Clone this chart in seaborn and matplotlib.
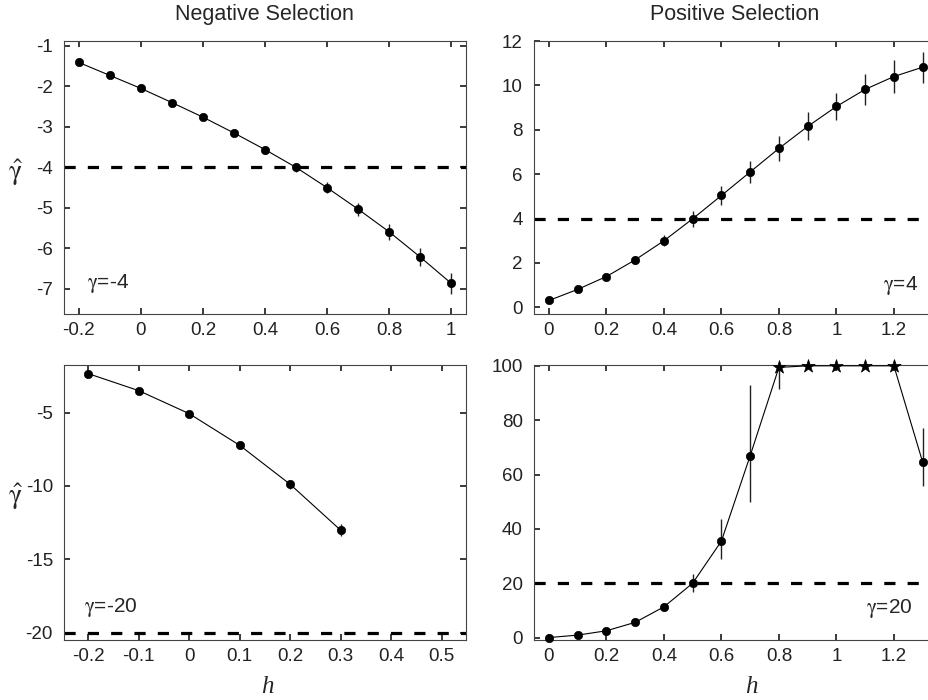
import matplotlib
matplotlib.use("Agg")
import matplotlib.pyplot as plt
import pandas as pd
import seaborn as sns

# values
h_neg4 = [-0.2, -0.1, 0.0, 0.1, 0.2, 0.3, 0.4, 0.5, 0.6, 0.7, 0.8, 0.9, 1.0]
g_neg4 = [-1.41, -1.73, -2.05, -2.40, -2.76, -3.15, -3.56, -4.00, -4.50, -5.03, -5.59, -6.21, -6.86]
e_neg4 = [0.03, 0.04, 0.05, 0.06, 0.07, 0.08, 0.10, 0.12, 0.14, 0.16, 0.20, 0.23, 0.26]

h_pos4 = [0.0, 0.1, 0.2, 0.3, 0.4, 0.5, 0.6, 0.7, 0.8, 0.9, 1.0, 1.1, 1.2, 1.3]
g_pos4 = [0.31, 0.81, 1.39, 2.14, 3.00, 3.99, 5.04, 6.10, 7.16, 8.15, 9.05, 9.82, 10.40, 10.82]
e_pos4 = [0.05, 0.08, 0.10, 0.17, 0.25, 0.35, 0.43, 0.50, 0.57, 0.63, 0.62, 0.69, 0.73, 0.70]

h_neg20 = [-0.2, -0.1, 0.0, 0.1, 0.2, 0.3]
g_neg20 = [-2.34, -3.50, -5.07, -7.23, -9.89, -13.02]
e_neg20 = [0.10, 0.15, 0.20, 0.25, 0.30, 0.40]

h_pos20 = [0.0, 0.1, 0.2, 0.3, 0.4, 0.5, 0.6, 0.7, 0.8, 0.9, 1.0, 1.1, 1.2, 1.3]
g_pos20 = [0.0, 0.9, 2.5, 5.6, 11.3, 20.0, 35.5, 66.9, 99.4, 100.0, 100.0, 100.0, 100.0, 64.6]
lo_pos20 = [0.3, 0.4, 0.6, 1.0, 1.5, 3.2, 6.5, 17.0, 8.0, 0.0, 0.0, 0.0, 0.0, 9.0]
hi_pos20 = [0.3, 0.4, 0.6, 1.0, 1.5, 3.5, 8.0, 26.0, 0.6, 0.0, 0.0, 0.0, 0.0, 12.5]
star_pos20 = [False, False, False, False, False, False, False, False, True, True, True, True, True, False]

sns.set_theme(style="ticks")
plt.rcParams.update({
    "font.family": ["Liberation Sans", "DejaVu Sans"],
    "font.size": 13,
    "xtick.direction": "in",
    "ytick.direction": "in",
    "xtick.top": True,
    "ytick.right": True,
    "xtick.major.size": 4,
    "ytick.major.size": 4,
    "xtick.major.pad": 6,
    "ytick.major.pad": 8,
    "xtick.labelsize": 13.5,
    "ytick.labelsize": 13.5,
    "axes.edgecolor": "#444444",
    "axes.linewidth": 0.8,
    "xtick.color": "#222222",
    "ytick.color": "#222222",
    "mathtext.fontset": "stix",
})

fig = plt.figure(figsize=(9.29, 7.0), dpi=100)
ax_tl = fig.add_axes([0.0689, 0.5514, 0.4327, 0.3900])
ax_tr = fig.add_axes([0.5748, 0.5514, 0.4338, 0.3900])
ax_bl = fig.add_axes([0.0689, 0.0857, 0.4327, 0.3929])
ax_br = fig.add_axes([0.5748, 0.0857, 0.4338, 0.3929])


def draw_panel(ax, h, g, lo, hi, truth):
    df = pd.DataFrame({"h": h, "g": g})
    ax.errorbar(h, g, yerr=[lo, hi], fmt="none", ecolor="#222222",
                elinewidth=1.0, capsize=0, zorder=2, clip_on=False)
    sns.lineplot(data=df, x="h", y="g", ax=ax, color="black", linewidth=0.8,
                 zorder=3, sort=False, clip_on=False)
    ax.axhline(truth, color="black", linewidth=2.3, dashes=(3.5, 3.8), zorder=1)
    ax.set_xlabel("")
    ax.set_ylabel("")


def dots(ax, h, g, marker="o", size=36):
    df = pd.DataFrame({"h": h, "g": g})
    sns.scatterplot(data=df, x="h", y="g", ax=ax, color="black", marker=marker,
                    s=size, edgecolor="black", linewidth=0.5, zorder=4, clip_on=False)
    ax.set_xlabel("")
    ax.set_ylabel("")


gam = r"$\mathrm{\gamma}$"

# top left
draw_panel(ax_tl, h_neg4, g_neg4, e_neg4, e_neg4, -4)
dots(ax_tl, h_neg4, g_neg4)
ax_tl.set_xlim(-0.248, 1.048)
ax_tl.set_ylim(-7.62, -0.88)
ax_tl.set_xticks([-0.2, 0, 0.2, 0.4, 0.6, 0.8, 1])
ax_tl.set_xticklabels(["-0.2", "0", "0.2", "0.4", "0.6", "0.8", "1"])
ax_tl.set_yticks([-7, -6, -5, -4, -3, -2, -1])
ax_tl.set_yticklabels(["-7", "-6", "-5", "-4", "-3", "-2", "-1"])
ax_tl.text(0.057, 0.11, gam + "=-4", transform=ax_tl.transAxes, ha="left", va="center", fontsize=15)

# top right
draw_panel(ax_tr, h_pos4, g_pos4, e_pos4, e_pos4, 4)
dots(ax_tr, h_pos4, g_pos4)
ax_tr.set_xlim(-0.052, 1.35)
ax_tr.set_ylim(-0.3, 12)
ax_tr.set_xticks([0, 0.2, 0.4, 0.6, 0.8, 1, 1.2])
ax_tr.set_xticklabels(["0", "0.2", "0.4", "0.6", "0.8", "1", "1.2"])
ax_tr.set_yticks([0, 2, 4, 6, 8, 10, 12])
ax_tr.text(0.953, 0.106, gam + "=4", transform=ax_tr.transAxes, ha="right", va="center", fontsize=15)

# bottom left
draw_panel(ax_bl, h_neg20, g_neg20, e_neg20, e_neg20, -20)
dots(ax_bl, h_neg20, g_neg20)
ax_bl.set_xlim(-0.248, 0.548)
ax_bl.set_ylim(-20.5, -1.75)
ax_bl.set_xticks([-0.2, -0.1, 0, 0.1, 0.2, 0.3, 0.4, 0.5])
ax_bl.set_xticklabels(["-0.2", "-0.1", "0", "0.1", "0.2", "0.3", "0.4", "0.5"])
ax_bl.set_yticks([-20, -15, -10, -5])
ax_bl.set_yticklabels(["-20", "-15", "-10", "-5"])
ax_bl.text(0.05, 0.12, gam + "=-20", transform=ax_bl.transAxes, ha="left", va="center", fontsize=15)

# bottom right
draw_panel(ax_br, h_pos20, g_pos20, lo_pos20, hi_pos20, 20)
h_c = [x for x, s in zip(h_pos20, star_pos20) if not s]
g_c = [y for y, s in zip(g_pos20, star_pos20) if not s]
h_s = [x for x, s in zip(h_pos20, star_pos20) if s]
g_s = [y for y, s in zip(g_pos20, star_pos20) if s]
dots(ax_br, h_c, g_c)
dots(ax_br, h_s, g_s, marker="*", size=100)
ax_br.set_xlim(-0.052, 1.35)
ax_br.set_ylim(-0.9, 100.3)
ax_br.set_xticks([0, 0.2, 0.4, 0.6, 0.8, 1, 1.2])
ax_br.set_xticklabels(["0", "0.2", "0.4", "0.6", "0.8", "1", "1.2"])
ax_br.set_yticks([0, 20, 40, 60, 80, 100])
ax_br.text(0.94, 0.116, gam + "=20", transform=ax_br.transAxes, ha="right", va="center", fontsize=15)

for ax in (ax_tl, ax_bl):
    ax.set_ylabel(r"$\hat{\mathrm{\gamma}}$", rotation=0, fontsize=20, va="center", ha="center")
    ax.yaxis.set_label_coords(-0.122, 0.52)

for ax, xc in ((ax_bl, 0.505), (ax_br, 0.54)):
    ax.set_xlabel("h", fontsize=18, fontstyle="italic", family="Liberation Serif", va="center")
    ax.xaxis.set_label_coords(xc, -0.17)

fig.text(0.285, 0.979, "Negative Selection", ha="center", va="center", fontsize=15.5)
fig.text(0.791, 0.979, "Positive Selection", ha="center", va="center", fontsize=15.5)

fig.savefig("out.png", dpi=100)
